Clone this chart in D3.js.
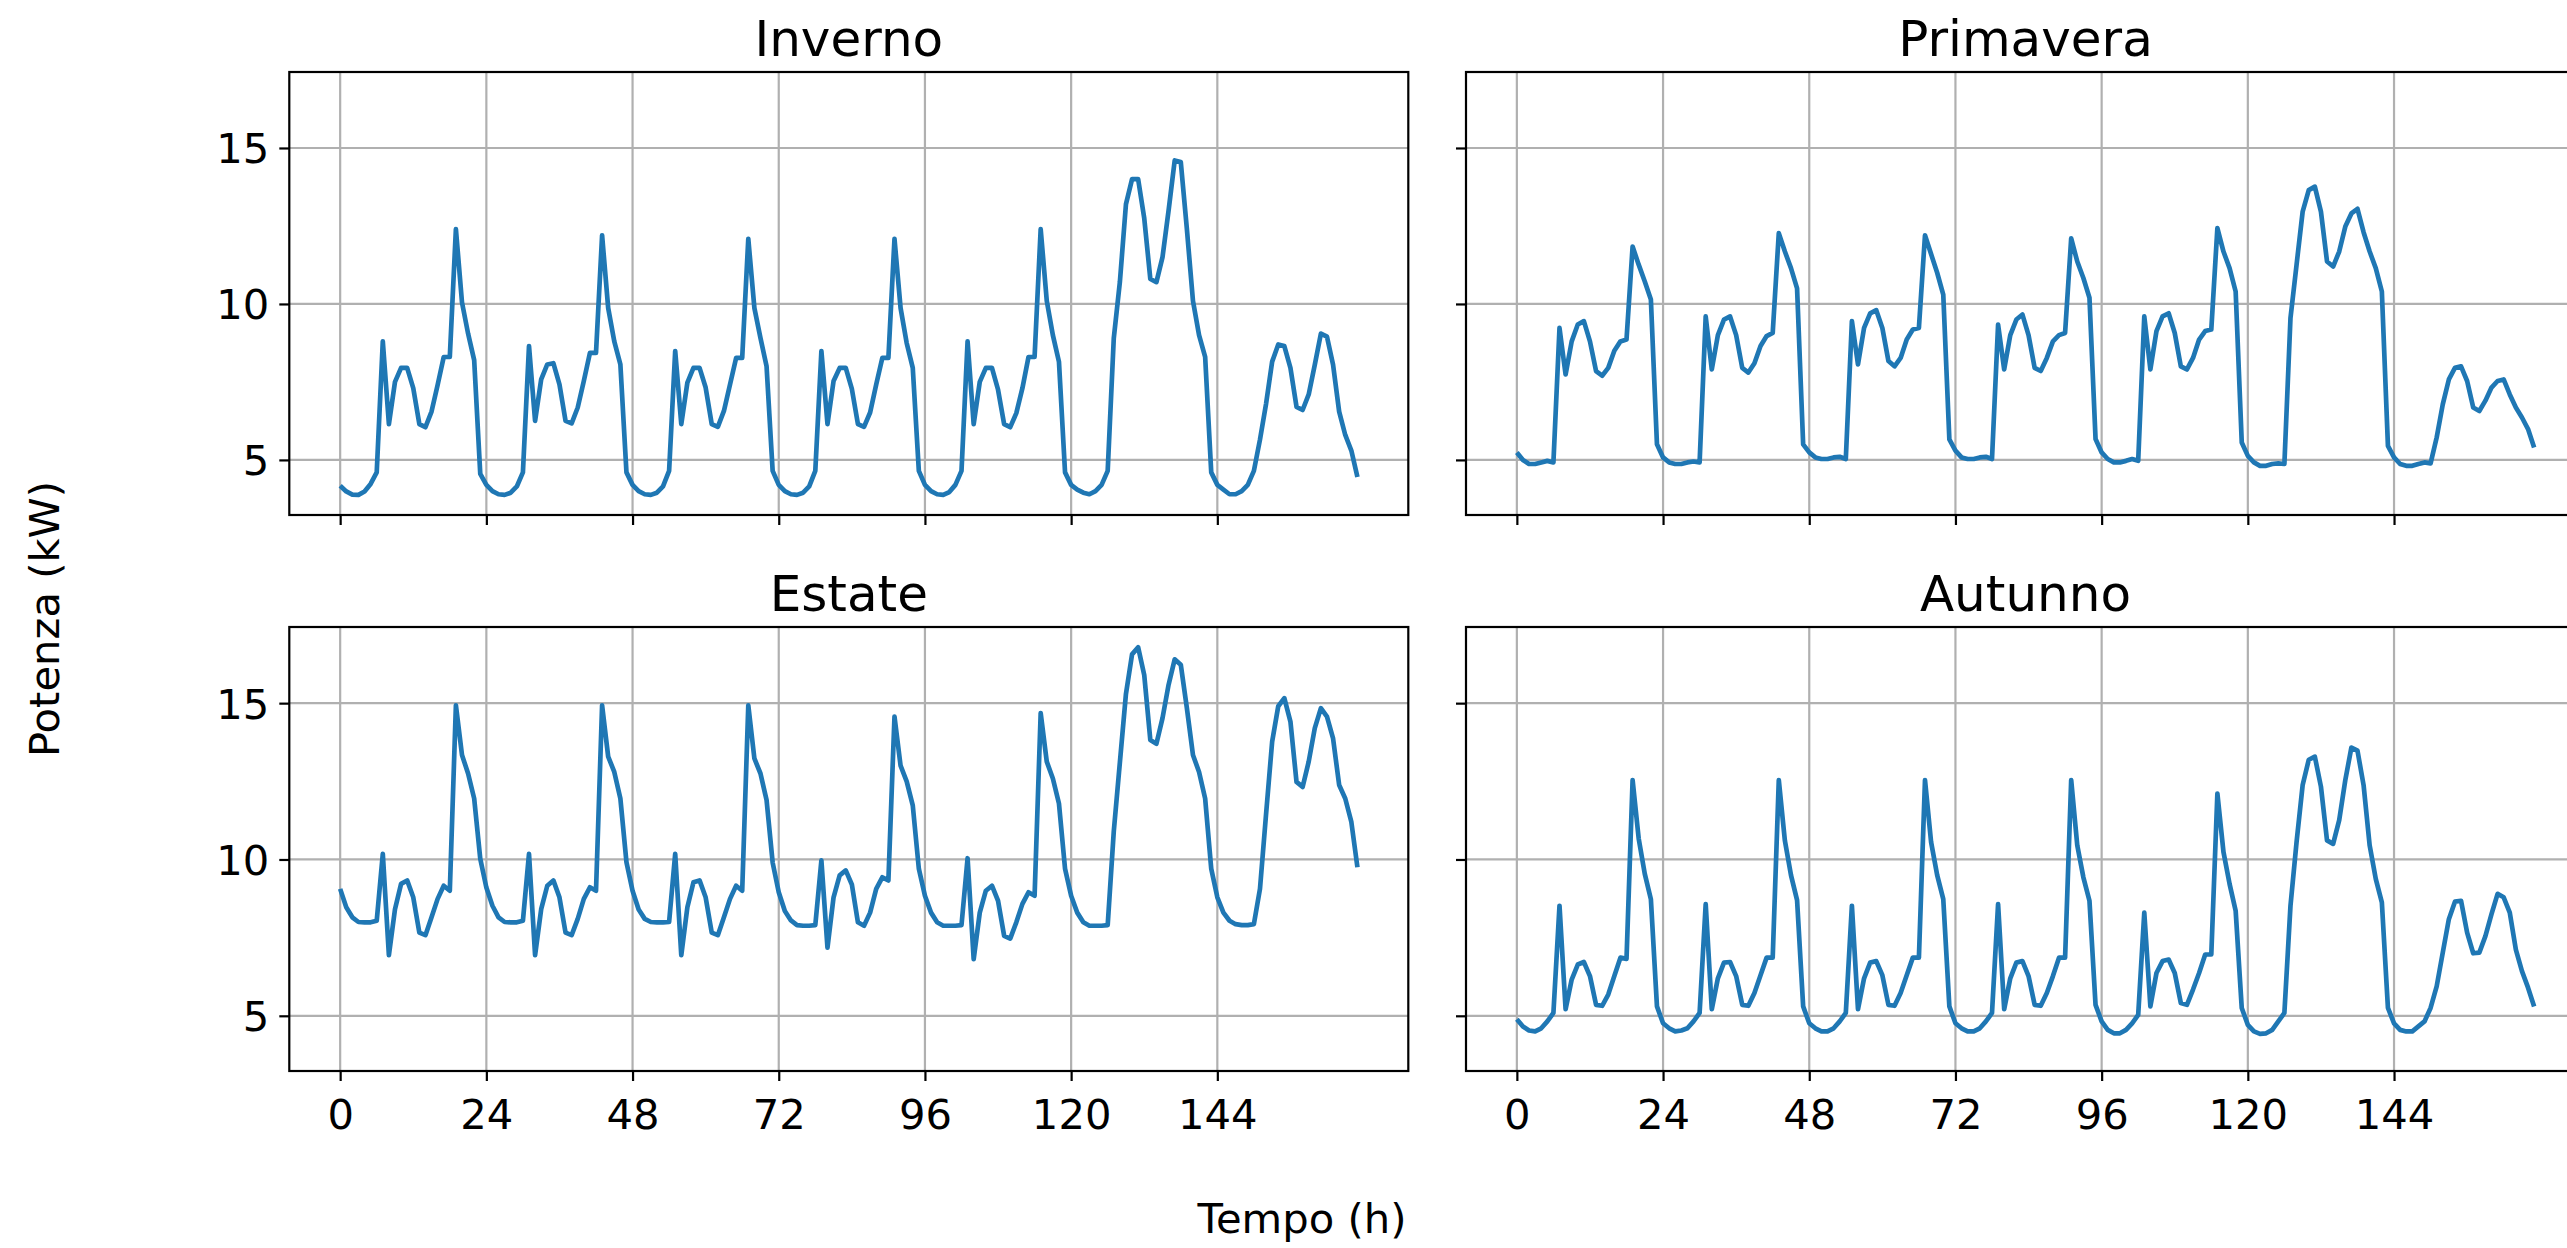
<!DOCTYPE html>
<html>
<head>
<meta charset="utf-8">
<script src="https://cdn.jsdelivr.net/npm/d3@7"></script>
<style>
  html, body { margin: 0; padding: 0; background: #fff; }
  svg { display: block; font-family: "DejaVu Sans", sans-serif; }
</style>
</head>
<body>
<svg id="chart" width="2567" height="1248"></svg>
<script>
// ---------------- DATA (hourly power, kW; one row per day) ----------------
const titles = ["Inverno", "Primavera", "Estate", "Autunno"];
const xTicks = [0, 24, 48, 72, 96, 120, 144];
const yTicks = [5, 10, 15];
const xLabel = "Tempo (h)";
const yLabel = "Potenza (kW)";

const inverno = [
  4.17, 3.99, 3.89, 3.88, 3.99, 4.23, 4.6, 8.8, 6.15, 7.5, 7.95, 7.95, 7.3, 6.15, 6.05, 6.55, 7.4, 8.3, 8.3, 12.4, 10.05, 9.05, 8.2, 4.55,
  4.2, 4.0, 3.9, 3.88, 3.95, 4.15, 4.6, 8.65, 6.25, 7.58, 8.06, 8.1, 7.42, 6.25, 6.17, 6.68, 7.53, 8.43, 8.43, 12.2, 9.87, 8.8, 8.06, 4.6,
  4.2, 4.0, 3.9, 3.88, 3.95, 4.15, 4.65, 8.49, 6.15, 7.48, 7.95, 7.95, 7.32, 6.15, 6.06, 6.57, 7.42, 8.27, 8.27, 12.09, 9.87, 8.91, 8.0, 4.65,
  4.2, 4.0, 3.9, 3.88, 3.95, 4.15, 4.65, 8.49, 6.15, 7.53, 7.95, 7.95, 7.28, 6.15, 6.06, 6.52, 7.42, 8.27, 8.27, 12.09, 9.87, 8.75, 7.95, 4.65,
  4.2, 4.0, 3.9, 3.88, 3.97, 4.2, 4.65, 8.8, 6.15, 7.5, 7.95, 7.95, 7.25, 6.15, 6.05, 6.5, 7.3, 8.3, 8.3, 12.4, 10.1, 9.0, 8.15, 4.6,
  4.2, 4.05, 3.95, 3.9, 4.0, 4.2, 4.65, 8.9, 10.7, 13.2, 14.0, 14.0, 12.75, 10.8, 10.7, 11.5, 13.0, 14.6, 14.55, 12.4, 10.1, 9.0, 8.3, 4.6,
  4.2, 4.05, 3.9, 3.9, 4.0, 4.2, 4.65, 5.65, 6.8, 8.15, 8.7, 8.65, 7.95, 6.7, 6.6, 7.1, 8.05, 9.05, 8.95, 8.05, 6.55, 5.8, 5.3, 4.45
];

const primavera = [
  5.24, 5.0, 4.87, 4.87, 4.92, 4.97, 4.92, 9.23, 7.74, 8.8, 9.34, 9.45, 8.8, 7.85, 7.7, 7.95, 8.5, 8.8, 8.86, 11.84, 11.26, 10.72, 10.14, 5.5,
  5.08, 4.92, 4.87, 4.87, 4.92, 4.95, 4.92, 9.6, 7.9, 9.0, 9.5, 9.6, 9.0, 7.95, 7.8, 8.1, 8.65, 8.97, 9.07, 12.27, 11.68, 11.15, 10.5, 5.5,
  5.24, 5.08, 5.03, 5.03, 5.08, 5.1, 5.03, 9.45, 8.06, 9.23, 9.7, 9.8, 9.23, 8.17, 8.0, 8.27, 8.86, 9.18, 9.23, 12.2, 11.6, 11.0, 10.3, 5.66,
  5.3, 5.08, 5.03, 5.03, 5.08, 5.1, 5.03, 9.34, 7.9, 9.0, 9.5, 9.66, 9.0, 7.95, 7.85, 8.27, 8.8, 9.0, 9.07, 12.1, 11.36, 10.83, 10.2, 5.67,
  5.24, 5.03, 4.92, 4.92, 4.97, 5.03, 4.97, 9.6, 7.9, 9.13, 9.6, 9.7, 9.07, 8.0, 7.9, 8.27, 8.86, 9.13, 9.18, 12.43, 11.68, 11.15, 10.4, 5.56,
  5.13, 4.92, 4.81, 4.81, 4.87, 4.89, 4.87, 9.55, 11.26, 12.96, 13.65, 13.76, 12.96, 11.36, 11.2, 11.68, 12.48, 12.9, 13.05, 12.3, 11.68, 11.15, 10.4, 5.45,
  5.08, 4.87, 4.81, 4.81, 4.87, 4.92, 4.89, 5.72, 6.78, 7.58, 7.95, 8.0, 7.53, 6.68, 6.57, 6.9, 7.32, 7.53, 7.58, 7.1, 6.68, 6.36, 5.99, 5.4
];

const estate = [
  9.06, 8.47, 8.15, 8.0, 7.99, 7.99, 8.04, 10.18, 6.94, 8.41, 9.22, 9.33, 8.79, 7.66, 7.58, 8.15, 8.74, 9.16, 9.0, 14.93, 13.34, 12.75, 11.95, 10.02,
  9.1, 8.52, 8.15, 8.0, 7.99, 7.99, 8.04, 10.18, 6.94, 8.41, 9.16, 9.33, 8.79, 7.66, 7.58, 8.1, 8.74, 9.11, 9.0, 14.93, 13.29, 12.8, 11.95, 9.91,
  9.0, 8.4, 8.1, 8.0, 7.99, 7.99, 8.0, 10.18, 6.94, 8.47, 9.27, 9.33, 8.79, 7.66, 7.58, 8.15, 8.74, 9.16, 9.0, 14.93, 13.23, 12.75, 11.9, 9.9,
  8.95, 8.35, 8.05, 7.9, 7.88, 7.88, 7.9, 9.97, 7.18, 8.79, 9.49, 9.65, 9.2, 7.99, 7.88, 8.3, 9.06, 9.43, 9.33, 14.57, 13.0, 12.5, 11.73, 9.7,
  8.84, 8.3, 7.99, 7.88, 7.88, 7.88, 7.9, 10.04, 6.81, 8.3, 9.0, 9.16, 8.68, 7.56, 7.47, 7.99, 8.58, 8.95, 8.84, 14.68, 13.13, 12.59, 11.79, 9.7,
  8.84, 8.3, 7.99, 7.88, 7.88, 7.88, 7.9, 10.9, 13.1, 15.3, 16.56, 16.79, 15.9, 13.82, 13.7, 14.52, 15.59, 16.4, 16.23, 14.84, 13.34, 12.8, 11.95, 9.7,
  8.79, 8.3, 8.04, 7.93, 7.9, 7.9, 7.93, 9.06, 11.45, 13.77, 14.9, 15.16, 14.41, 12.48, 12.32, 13.13, 14.2, 14.84, 14.57, 13.87, 12.38, 11.95, 11.2, 9.75
];

const autunno = [
  4.89, 4.66, 4.53, 4.5, 4.6, 4.82, 5.09, 8.52, 5.21, 6.16, 6.64, 6.72, 6.27, 5.35, 5.32, 5.68, 6.27, 6.86, 6.82, 12.54, 10.67, 9.54, 8.73, 5.3,
  4.76, 4.6, 4.5, 4.53, 4.6, 4.82, 5.09, 8.57, 5.21, 6.2, 6.7, 6.72, 6.27, 5.35, 5.32, 5.73, 6.3, 6.86, 6.86, 12.54, 10.6, 9.5, 8.7, 5.3,
  4.76, 4.6, 4.5, 4.5, 4.6, 4.82, 5.09, 8.52, 5.21, 6.2, 6.7, 6.75, 6.3, 5.35, 5.32, 5.73, 6.3, 6.86, 6.86, 12.54, 10.56, 9.5, 8.73, 5.3,
  4.76, 4.6, 4.5, 4.5, 4.6, 4.82, 5.09, 8.57, 5.21, 6.2, 6.7, 6.75, 6.27, 5.35, 5.32, 5.73, 6.27, 6.86, 6.86, 12.54, 10.45, 9.43, 8.68, 5.35,
  4.82, 4.55, 4.44, 4.44, 4.55, 4.76, 5.03, 8.3, 5.3, 6.37, 6.75, 6.8, 6.37, 5.41, 5.35, 5.84, 6.37, 6.96, 6.96, 12.11, 10.24, 9.22, 8.36, 5.25,
  4.71, 4.5, 4.42, 4.44, 4.55, 4.82, 5.09, 8.52, 10.56, 12.38, 13.19, 13.29, 12.33, 10.61, 10.5, 11.26, 12.54, 13.58, 13.48, 12.38, 10.45, 9.38, 8.63, 5.25,
  4.76, 4.55, 4.5, 4.5, 4.66, 4.82, 5.25, 5.94, 7.02, 8.09, 8.65, 8.68, 7.66, 7.0, 7.02, 7.55, 8.25, 8.9, 8.79, 8.3, 7.12, 6.43, 5.9, 5.3
];

const seriesList = [inverno, primavera, estate, autunno];

// ---------------- LAYOUT ----------------
const svg = d3.select("#chart");
const W = 2567, H = 1248;
const FONT = 41.7, TITLE_FONT = 50;
const BLUE = "#1f77b4", GRID = "#b0b0b0";
const panelW = 1119;
const panels = [
  { x0: 289.3, y0: 72,  h: 443, showX: false, showY: true },
  { x0: 1466,  y0: 72,  h: 443, showX: false, showY: false },
  { x0: 289.3, y0: 627, h: 444, showX: true,  showY: true },
  { x0: 1466,  y0: 627, h: 444, showX: true,  showY: false }
];

// shared limits like matplotlib autoscale (5% margins)
const n = inverno.length;
const xMin = 0, xMax = n - 1;
const xPad = (xMax - xMin) * 0.05;
const allVals = seriesList.flat();
const yMinD = d3.min(allVals), yMaxD = d3.max(allVals);
const yPad = (yMaxD - yMinD) * 0.05;

svg.append("rect").attr("width", W).attr("height", H).attr("fill", "#fff");

panels.forEach((p, i) => {
  const data = seriesList[i];
  const x = d3.scaleLinear().domain([xMin - xPad, xMax + xPad]).range([p.x0, p.x0 + panelW]);
  const y = d3.scaleLinear().domain([yMinD - yPad, yMaxD + yPad]).range([p.y0 + p.h, p.y0]);
  const g = svg.append("g");

  const clipId = "clip" + i;
  svg.append("clipPath").attr("id", clipId)
    .append("rect").attr("x", p.x0).attr("y", p.y0).attr("width", panelW).attr("height", p.h);

  // grid
  g.append("g").selectAll("line.gx").data(xTicks).join("line")
    .attr("x1", d => x(d)).attr("x2", d => x(d))
    .attr("y1", p.y0).attr("y2", p.y0 + p.h)
    .attr("stroke", GRID).attr("stroke-width", 2.2);
  g.append("g").selectAll("line.gy").data(yTicks).join("line")
    .attr("x1", p.x0).attr("x2", p.x0 + panelW)
    .attr("y1", d => y(d)).attr("y2", d => y(d))
    .attr("stroke", GRID).attr("stroke-width", 2.2);

  // line
  const line = d3.line().x((d, k) => x(k)).y(d => y(d));
  g.append("path").datum(data)
    .attr("clip-path", `url(#${clipId})`)
    .attr("d", line).attr("fill", "none")
    .attr("stroke", BLUE).attr("stroke-width", 4.7)
    .attr("stroke-linejoin", "round").attr("stroke-linecap", "butt");

  // axes via d3 axis generators
  const xAxis = d3.axisBottom(x).tickValues(xTicks).tickSize(10).tickPadding(8)
    .tickFormat(p.showX ? d3.format("d") : () => "");
  const gx = g.append("g").attr("transform", `translate(0,${p.y0 + p.h})`).call(xAxis);
  gx.select(".domain").remove();
  gx.selectAll(".tick line").attr("stroke", "#000").attr("stroke-width", 2.2);
  gx.selectAll(".tick text").attr("font-size", FONT).attr("fill", "#000")
    .attr("font-family", "DejaVu Sans").attr("dy", "0.95em");

  const yAxis = d3.axisLeft(y).tickValues(yTicks).tickSize(10).tickPadding(10)
    .tickFormat(p.showY ? d3.format("d") : () => "");
  const gy = g.append("g").attr("transform", `translate(${p.x0},0)`).call(yAxis);
  gy.select(".domain").remove();
  gy.selectAll(".tick line").attr("stroke", "#000").attr("stroke-width", 2.2);
  gy.selectAll(".tick text").attr("font-size", FONT).attr("fill", "#000")
    .attr("font-family", "DejaVu Sans").attr("dy", "0.36em");

  // frame
  g.append("rect").attr("x", p.x0).attr("y", p.y0).attr("width", panelW).attr("height", p.h)
    .attr("fill", "none").attr("stroke", "#000").attr("stroke-width", 2.2);

  // title
  g.append("text").attr("x", p.x0 + panelW / 2).attr("y", p.y0 - 16)
    .attr("text-anchor", "middle").attr("font-size", TITLE_FONT).attr("fill", "#000")
    .text(titles[i]);
});

// figure labels
svg.append("text").attr("x", 1302).attr("y", 1233)
  .attr("text-anchor", "middle").attr("font-size", FONT).attr("fill", "#000")
  .text(xLabel);
svg.append("text").attr("transform", "translate(59,619) rotate(-90)")
  .attr("text-anchor", "middle").attr("font-size", FONT).attr("fill", "#000")
  .text(yLabel);
</script>
</body>
</html>
